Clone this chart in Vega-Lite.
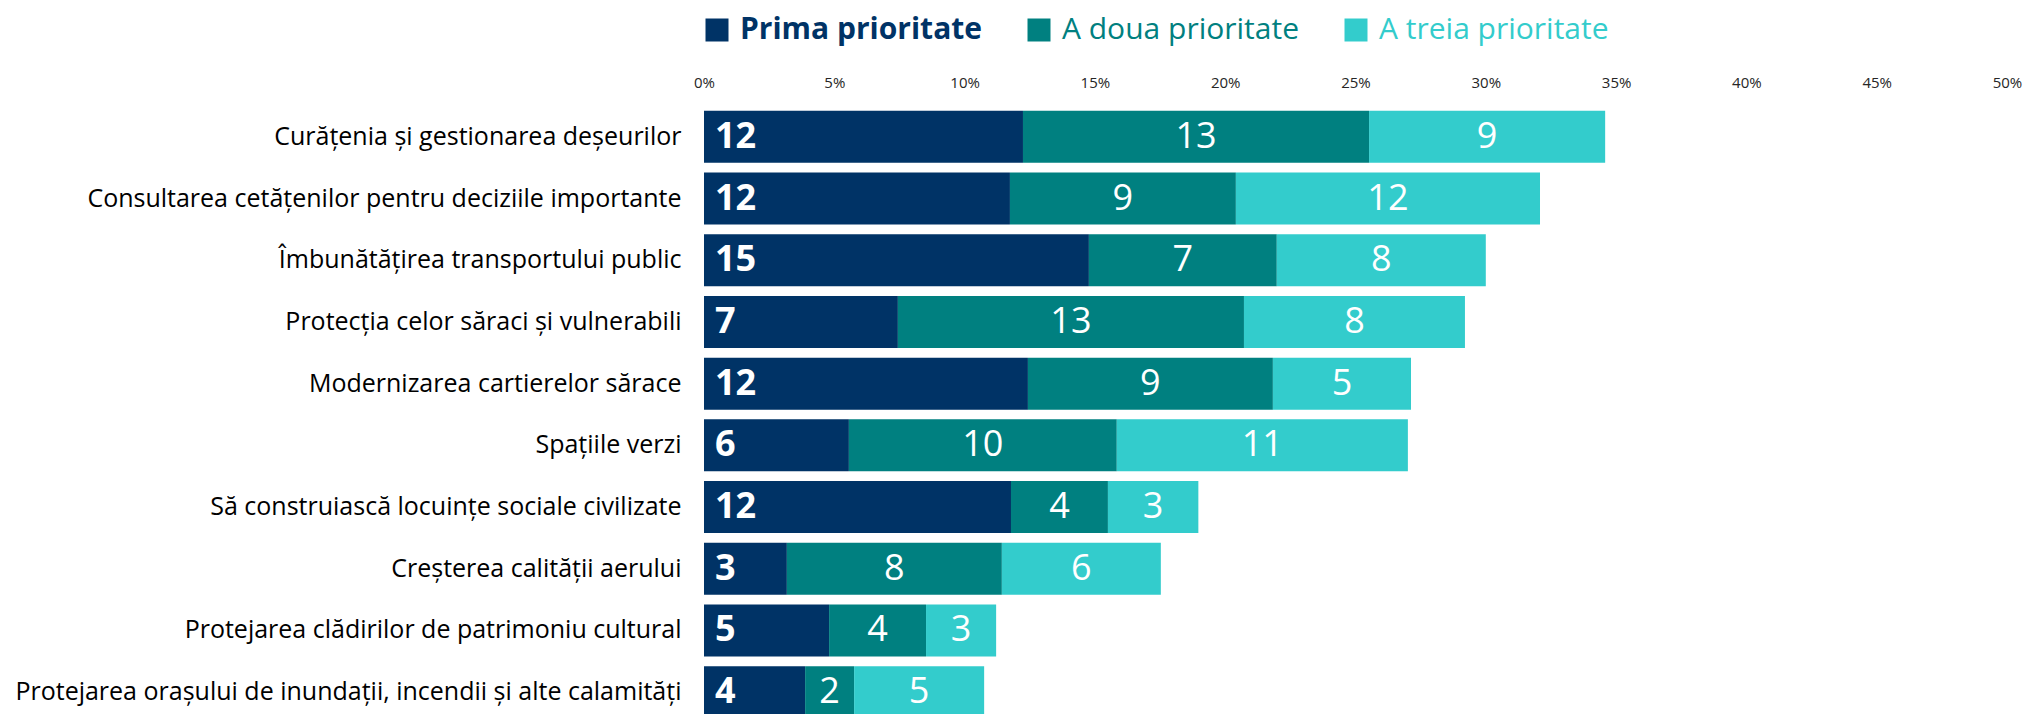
{
  "$schema": "https://vega.github.io/schema/vega-lite/v6.json",
  "width": 1303,
  "height": 617,
  "autosize": {"type": "none"},
  "padding": {"left": 704, "top": 106, "right": 17, "bottom": 0},
  "background": "white",
  "config": {"view": {"stroke": null}, "font": "Open Sans"},
  "data": {
    "values": [
      {"cat": "Curățenia și gestionarea deșeurilor", "prio": "Prima prioritate", "order": 1, "value": 12.24},
      {"cat": "Curățenia și gestionarea deșeurilor", "prio": "A doua prioritate", "order": 2, "value": 13.28},
      {"cat": "Curățenia și gestionarea deșeurilor", "prio": "A treia prioritate", "order": 3, "value": 9.06},
      {"cat": "Consultarea cetățenilor pentru deciziile importante", "prio": "Prima prioritate", "order": 1, "value": 11.74},
      {"cat": "Consultarea cetățenilor pentru deciziile importante", "prio": "A doua prioritate", "order": 2, "value": 8.67},
      {"cat": "Consultarea cetățenilor pentru deciziile importante", "prio": "A treia prioritate", "order": 3, "value": 11.67},
      {"cat": "Îmbunătățirea transportului public", "prio": "Prima prioritate", "order": 1, "value": 14.77},
      {"cat": "Îmbunătățirea transportului public", "prio": "A doua prioritate", "order": 2, "value": 7.21},
      {"cat": "Îmbunătățirea transportului public", "prio": "A treia prioritate", "order": 3, "value": 8.02},
      {"cat": "Protecția celor săraci și vulnerabili", "prio": "Prima prioritate", "order": 1, "value": 7.44},
      {"cat": "Protecția celor săraci și vulnerabili", "prio": "A doua prioritate", "order": 2, "value": 13.28},
      {"cat": "Protecția celor săraci și vulnerabili", "prio": "A treia prioritate", "order": 3, "value": 8.48},
      {"cat": "Modernizarea cartierelor sărace", "prio": "Prima prioritate", "order": 1, "value": 12.43},
      {"cat": "Modernizarea cartierelor sărace", "prio": "A doua prioritate", "order": 2, "value": 9.40},
      {"cat": "Modernizarea cartierelor sărace", "prio": "A treia prioritate", "order": 3, "value": 5.30},
      {"cat": "Spațiile verzi", "prio": "Prima prioritate", "order": 1, "value": 5.56},
      {"cat": "Spațiile verzi", "prio": "A doua prioritate", "order": 2, "value": 10.28},
      {"cat": "Spațiile verzi", "prio": "A treia prioritate", "order": 3, "value": 11.17},
      {"cat": "Să construiască locuințe sociale civilizate", "prio": "Prima prioritate", "order": 1, "value": 11.78},
      {"cat": "Să construiască locuințe sociale civilizate", "prio": "A doua prioritate", "order": 2, "value": 3.72},
      {"cat": "Să construiască locuințe sociale civilizate", "prio": "A treia prioritate", "order": 3, "value": 3.47},
      {"cat": "Creșterea calității aerului", "prio": "Prima prioritate", "order": 1, "value": 3.18},
      {"cat": "Creșterea calității aerului", "prio": "A doua prioritate", "order": 2, "value": 8.25},
      {"cat": "Creșterea calității aerului", "prio": "A treia prioritate", "order": 3, "value": 6.10},
      {"cat": "Protejarea clădirilor de patrimoniu cultural", "prio": "Prima prioritate", "order": 1, "value": 4.80},
      {"cat": "Protejarea clădirilor de patrimoniu cultural", "prio": "A doua prioritate", "order": 2, "value": 3.72},
      {"cat": "Protejarea clădirilor de patrimoniu cultural", "prio": "A treia prioritate", "order": 3, "value": 2.69},
      {"cat": "Protejarea orașului de inundații, incendii și alte calamități", "prio": "Prima prioritate", "order": 1, "value": 3.88},
      {"cat": "Protejarea orașului de inundații, incendii și alte calamități", "prio": "A doua prioritate", "order": 2, "value": 1.88},
      {"cat": "Protejarea orașului de inundații, incendii și alte calamități", "prio": "A treia prioritate", "order": 3, "value": 4.99}
    ]
  },
  "transform": [
    {"stack": "value", "groupby": ["cat"], "sort": [{"field": "order", "order": "ascending"}], "as": ["x0", "x1"]},
    {"calculate": "(datum.x0 + datum.x1) / 2", "as": "mid"}
  ],
  "encoding": {
    "y": {
      "field": "cat",
      "type": "nominal",
      "sort": null,
      "scale": {"paddingInner": 0.157, "paddingOuter": 0.0785},
      "axis": {
        "title": null,
        "domain": false,
        "ticks": false,
        "tickSize": 0,
        "labelPadding": 23,
        "labelFontSize": 25,
        "labelColor": "#000000",
        "labelLimit": 0,
        "labelFont": "Open Sans"
      }
    }
  },
  "layer": [
    {
      "mark": {"type": "bar", "cornerRadius": 0},
      "encoding": {
        "x": {
          "field": "x0",
          "type": "quantitative",
          "scale": {"domain": [0, 50], "nice": false},
          "axis": {
            "orient": "top",
            "title": null,
            "domain": false,
            "ticks": false,
            "tickSize": 0,
            "grid": false,
            "labelFlush": false,
            "values": [0, 5, 10, 15, 20, 25, 30, 35, 40, 45, 50],
            "labelExpr": "datum.value + '%'",
            "labelFontSize": 15,
            "labelColor": "#262626",
            "labelPadding": 16,
            "labelFont": "Open Sans"
          }
        },
        "x2": {"field": "x1"},
        "color": {
          "field": "prio",
          "type": "nominal",
          "sort": ["Prima prioritate", "A doua prioritate", "A treia prioritate"],
          "scale": {
            "domain": ["Prima prioritate", "A doua prioritate", "A treia prioritate"],
            "range": ["#003366", "#008080", "#33CCCC"]
          },
          "legend": {
            "title": null,
            "orient": "none",
            "direction": "horizontal",
            "legendX": -2,
            "legendY": -91,
            "symbolType": "square",
            "symbolSize": 529,
            "symbolStrokeWidth": 0,
            "symbolOpacity": 1,
            "labelFontSize": 30,
            "labelFont": "Open Sans",
            "labelOffset": 8,
            "columnPadding": 42,
            "labelLimit": 0,
            "labelColor": {"expr": "datum.label == 'Prima prioritate' ? '#003366' : (datum.label == 'A doua prioritate' ? '#008080' : '#33CCCC')"},
            "labelFontWeight": {"expr": "datum.label == 'Prima prioritate' ? 'bold' : 'normal'"}
          }
        }
      }
    },
    {
      "transform": [{"filter": "datum.order == 1"}],
      "mark": {"type": "text", "align": "left", "baseline": "middle", "dx": 11, "fontSize": 36, "fontWeight": "bold", "color": "white", "font": "Open Sans"},
      "encoding": {
        "x": {"field": "x0", "type": "quantitative"},
        "text": {"field": "value", "type": "quantitative", "format": ".0f"}
      }
    },
    {
      "transform": [{"filter": "datum.order > 1"}],
      "mark": {"type": "text", "align": "center", "baseline": "middle", "fontSize": 36, "fontWeight": "normal", "color": "white", "font": "Open Sans"},
      "encoding": {
        "x": {"field": "mid", "type": "quantitative"},
        "text": {"field": "value", "type": "quantitative", "format": ".0f"}
      }
    }
  ]
}
